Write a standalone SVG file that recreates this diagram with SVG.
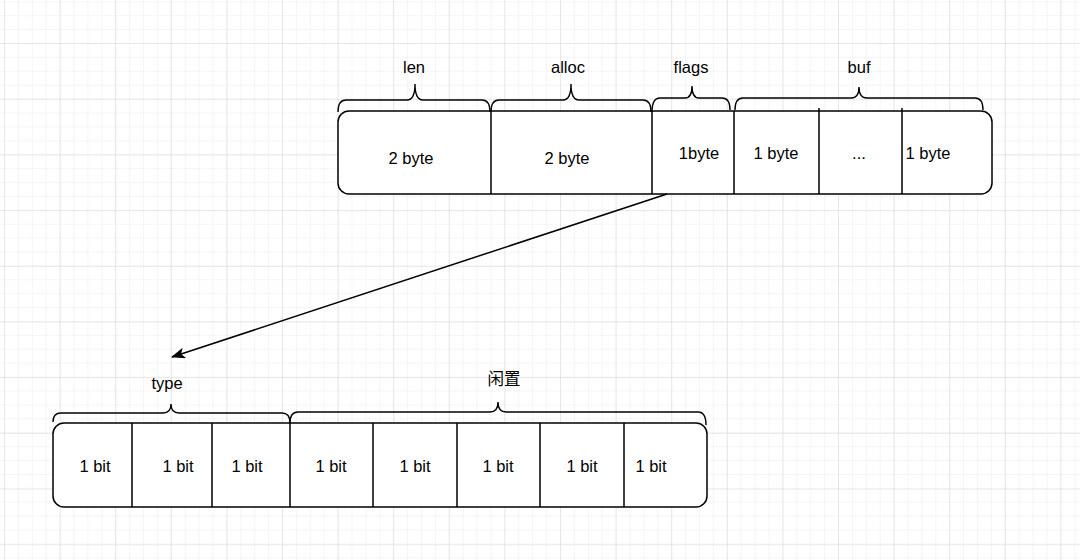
<svg xmlns="http://www.w3.org/2000/svg" width="1080" height="560" viewBox="0 0 1080 560">
  <defs>
    <pattern id="minor" x="4" y="43" width="13.9" height="13.9" patternUnits="userSpaceOnUse">
      <path d="M0 0 H13.9 M0 0 V13.9" fill="none" stroke="#ececec" stroke-width="1"/>
    </pattern>
    <pattern id="major" x="4" y="43" width="55.6" height="55.7" patternUnits="userSpaceOnUse">
      <path d="M0 0 H55.6 M0 0 V55.7" fill="none" stroke="#d8d8d8" stroke-width="1"/>
    </pattern>
    <marker id="arrow" viewBox="0 0 14 11" refX="13" refY="5.5" markerWidth="14" markerHeight="11" markerUnits="userSpaceOnUse" orient="auto">
      <path d="M0 0 L14 5.5 L0 11 L3.5 5.5 Z" fill="#000"/>
    </marker>
    <style>
      .box { fill: #ffffff; stroke: #000; stroke-width: 1.5; }
      .div { stroke: #000; stroke-width: 1.5; fill: none; }
      .brace { fill: none; stroke: #000; stroke-width: 1.4; }
      text { font-family: "Liberation Sans", Arial, "Noto Sans CJK SC", sans-serif; font-size: 16.5px; fill: #000; text-anchor: middle; }
      .conn { stroke: #000; stroke-width: 1.5; fill: none; }
    </style>
  </defs>
  <rect width="1080" height="560" fill="#ffffff"/>
  <rect width="1080" height="560" fill="url(#minor)"/>
  <rect width="1080" height="560" fill="url(#major)"/>

  <g id="top-struct">
    <rect class="box" x="338" y="111" width="654" height="83" rx="11" ry="11"/>
    <path class="div" d="M491 111 V194 M652 111 V194 M734 111 V194 M819 108 V194 M902 108 V194"/>
    <text x="411" y="164">2 byte</text>
    <text x="567" y="164">2 byte</text>
    <text x="699" y="159">1byte</text>
    <text x="776" y="159">1 byte</text>
    <text x="859" y="159">...</text>
    <text x="928" y="159">1 byte</text>
  </g>

  <g id="top-braces">
    <path class="brace" d="M338 112 Q338 100 346 100 L407 100 Q415 100 415 84 Q415 100 423 100 L482 100 Q490 100 490 112"/>
    <text x="414" y="73">len</text>
    <path class="brace" d="M491 112 Q491 100 499 100 L563 100 Q571 100 571 84 Q571 100 579 100 L643 100 Q651 100 651 112"/>
    <text x="568" y="73">alloc</text>
    <path class="brace" d="M652 112 Q652 98 660 98 L685 98 Q692 98 692 86 Q692 98 699 98 L722 98 Q730 98 730 110"/>
    <text x="691" y="73">flags</text>
    <path class="brace" d="M735 110 Q735 98 743 98 L851 98 Q859 98 859 87 Q859 98 867 98 L975 98 Q983 98 983 110"/>
    <text x="859" y="73">buf</text>
  </g>

  <g id="bottom-struct">
    <rect class="box" x="53" y="423" width="654" height="84" rx="11" ry="11"/>
    <path class="div" d="M132 423 V507 M212 423 V507 M290 423 V507 M373 423 V507 M457 423 V507 M540 423 V507 M624 423 V507"/>
    <text x="95" y="472">1 bit</text>
    <text x="178" y="472">1 bit</text>
    <text x="247" y="472">1 bit</text>
    <text x="331" y="472">1 bit</text>
    <text x="415" y="472">1 bit</text>
    <text x="498" y="472">1 bit</text>
    <text x="582" y="472">1 bit</text>
    <text x="651" y="472">1 bit</text>
  </g>

  <g id="bottom-braces">
    <path class="brace" d="M53 422 Q53 413 61 413 L163 413 Q171 413 171 404 Q171 413 179 413 L282 413 Q290 413 290 423"/>
    <text x="167" y="389">type</text>
    <path class="brace" d="M290 423 Q290 412 298 412 L490 412 Q498 412 498 402 Q498 412 506 412 L698 412 Q706 412 706 425"/>
    <text x="504" y="385">闲置</text>
  </g>

  <g id="connectors">
    <line class="conn" x1="667" y1="194" x2="172" y2="357" marker-end="url(#arrow)"/>
  </g>
</svg>
